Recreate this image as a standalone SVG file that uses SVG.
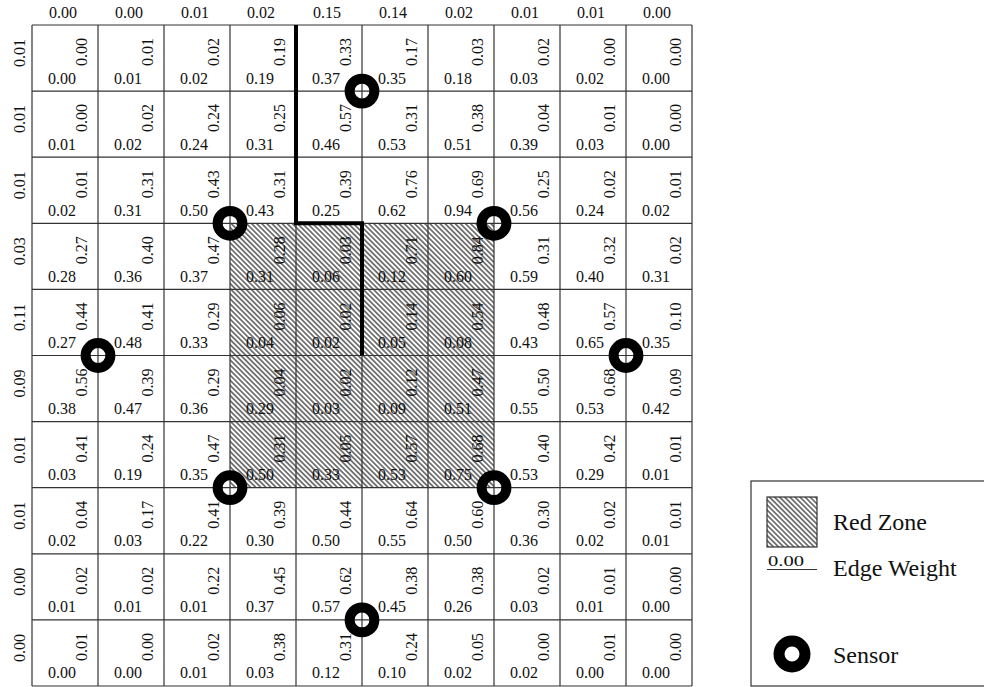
<svg xmlns="http://www.w3.org/2000/svg" width="984" height="687" viewBox="0 0 984 687">
<style>
text{font-family:"Liberation Serif","Times New Roman",serif;fill:#111;font-size:16px}
.b{text-anchor:start}
.r{text-anchor:end}
.m{text-anchor:middle}
.grid line{stroke:#333;stroke-width:1.2}
.sensor{fill:none;stroke:#000;stroke-width:10}
.leg{font-size:24px}
</style>
<defs>
<pattern id="hatch" patternUnits="userSpaceOnUse" width="3.6" height="10" patternTransform="rotate(-45)">
<line x1="1.8" y1="-1" x2="1.8" y2="11" stroke="#000" stroke-width="1"/>
</pattern>
</defs>
<rect width="984" height="687" fill="#fff"/>
<g id="red-zone"><rect x="230" y="223.3" width="264" height="264.4" fill="url(#hatch)"/></g>
<g id="grid" class="grid">
<line x1="32" y1="25" x2="692" y2="25"/><line x1="32" y1="91.1" x2="692" y2="91.1"/><line x1="32" y1="157.2" x2="692" y2="157.2"/><line x1="32" y1="223.3" x2="692" y2="223.3"/><line x1="32" y1="289.4" x2="692" y2="289.4"/><line x1="32" y1="355.5" x2="692" y2="355.5"/><line x1="32" y1="421.6" x2="692" y2="421.6"/><line x1="32" y1="487.7" x2="692" y2="487.7"/><line x1="32" y1="553.8" x2="692" y2="553.8"/><line x1="32" y1="619.9" x2="692" y2="619.9"/><line x1="32" y1="686" x2="692" y2="686"/>
<line x1="32" y1="25" x2="32" y2="686"/><line x1="98" y1="25" x2="98" y2="686"/><line x1="164" y1="25" x2="164" y2="686"/><line x1="230" y1="25" x2="230" y2="686"/><line x1="296" y1="25" x2="296" y2="686"/><line x1="362" y1="25" x2="362" y2="686"/><line x1="428" y1="25" x2="428" y2="686"/><line x1="494" y1="25" x2="494" y2="686"/><line x1="560" y1="25" x2="560" y2="686"/><line x1="626" y1="25" x2="626" y2="686"/><line x1="692" y1="25" x2="692" y2="686"/>
</g>
<g id="connectors"><path d="M296,25 V223.3 H362 V355.5" fill="none" stroke="#000" stroke-width="4"/></g>
<g id="top-labels">
<text class="m" x="63" y="18">0.00</text><text class="m" x="129" y="18">0.00</text><text class="m" x="195" y="18">0.01</text><text class="m" x="261" y="18">0.02</text><text class="m" x="327" y="18">0.15</text><text class="m" x="393" y="18">0.14</text><text class="m" x="459" y="18">0.02</text><text class="m" x="525" y="18">0.01</text><text class="m" x="591" y="18">0.01</text><text class="m" x="657" y="18">0.00</text>
</g>
<g id="left-labels">
<text class="m" transform="translate(25,53) rotate(-90)">0.01</text><text class="m" transform="translate(25,119.1) rotate(-90)">0.01</text><text class="m" transform="translate(25,185.2) rotate(-90)">0.01</text><text class="m" transform="translate(25,251.3) rotate(-90)">0.03</text><text class="m" transform="translate(25,317.4) rotate(-90)">0.11</text><text class="m" transform="translate(25,383.5) rotate(-90)">0.09</text><text class="m" transform="translate(25,449.6) rotate(-90)">0.01</text><text class="m" transform="translate(25,515.7) rotate(-90)">0.01</text><text class="m" transform="translate(25,581.8) rotate(-90)">0.00</text><text class="m" transform="translate(25,647.9) rotate(-90)">0.00</text>
</g>
<g id="cells">
<g id="row1" transform="translate(32,25)">
<g transform="translate(0,0)"><text class="b" x="16" y="58.5">0.00</text><text class="r" transform="translate(55,13) rotate(-90)">0.00</text></g>
<g transform="translate(66,0)"><text class="b" x="16" y="58.5">0.01</text><text class="r" transform="translate(55,13) rotate(-90)">0.01</text></g>
<g transform="translate(132,0)"><text class="b" x="16" y="58.5">0.02</text><text class="r" transform="translate(55,13) rotate(-90)">0.02</text></g>
<g transform="translate(198,0)"><text class="b" x="16" y="58.5">0.19</text><text class="r" transform="translate(55,13) rotate(-90)">0.19</text></g>
<g transform="translate(264,0)"><text class="b" x="16" y="58.5">0.37</text><text class="r" transform="translate(55,13) rotate(-90)">0.33</text></g>
<g transform="translate(330,0)"><text class="b" x="16" y="58.5">0.35</text><text class="r" transform="translate(55,13) rotate(-90)">0.17</text></g>
<g transform="translate(396,0)"><text class="b" x="16" y="58.5">0.18</text><text class="r" transform="translate(55,13) rotate(-90)">0.03</text></g>
<g transform="translate(462,0)"><text class="b" x="16" y="58.5">0.03</text><text class="r" transform="translate(55,13) rotate(-90)">0.02</text></g>
<g transform="translate(528,0)"><text class="b" x="16" y="58.5">0.02</text><text class="r" transform="translate(55,13) rotate(-90)">0.00</text></g>
<g transform="translate(594,0)"><text class="b" x="16" y="58.5">0.00</text><text class="r" transform="translate(55,13) rotate(-90)">0.00</text></g>
</g>
<g id="row2" transform="translate(32,91.1)">
<g transform="translate(0,0)"><text class="b" x="16" y="58.5">0.01</text><text class="r" transform="translate(55,13) rotate(-90)">0.00</text></g>
<g transform="translate(66,0)"><text class="b" x="16" y="58.5">0.02</text><text class="r" transform="translate(55,13) rotate(-90)">0.02</text></g>
<g transform="translate(132,0)"><text class="b" x="16" y="58.5">0.24</text><text class="r" transform="translate(55,13) rotate(-90)">0.24</text></g>
<g transform="translate(198,0)"><text class="b" x="16" y="58.5">0.31</text><text class="r" transform="translate(55,13) rotate(-90)">0.25</text></g>
<g transform="translate(264,0)"><text class="b" x="16" y="58.5">0.46</text><text class="r" transform="translate(55,13) rotate(-90)">0.57</text></g>
<g transform="translate(330,0)"><text class="b" x="16" y="58.5">0.53</text><text class="r" transform="translate(55,13) rotate(-90)">0.31</text></g>
<g transform="translate(396,0)"><text class="b" x="16" y="58.5">0.51</text><text class="r" transform="translate(55,13) rotate(-90)">0.38</text></g>
<g transform="translate(462,0)"><text class="b" x="16" y="58.5">0.39</text><text class="r" transform="translate(55,13) rotate(-90)">0.04</text></g>
<g transform="translate(528,0)"><text class="b" x="16" y="58.5">0.03</text><text class="r" transform="translate(55,13) rotate(-90)">0.01</text></g>
<g transform="translate(594,0)"><text class="b" x="16" y="58.5">0.00</text><text class="r" transform="translate(55,13) rotate(-90)">0.00</text></g>
</g>
<g id="row3" transform="translate(32,157.2)">
<g transform="translate(0,0)"><text class="b" x="16" y="58.5">0.02</text><text class="r" transform="translate(55,13) rotate(-90)">0.01</text></g>
<g transform="translate(66,0)"><text class="b" x="16" y="58.5">0.31</text><text class="r" transform="translate(55,13) rotate(-90)">0.31</text></g>
<g transform="translate(132,0)"><text class="b" x="16" y="58.5">0.50</text><text class="r" transform="translate(55,13) rotate(-90)">0.43</text></g>
<g transform="translate(198,0)"><text class="b" x="16" y="58.5">0.43</text><text class="r" transform="translate(55,13) rotate(-90)">0.31</text></g>
<g transform="translate(264,0)"><text class="b" x="16" y="58.5">0.25</text><text class="r" transform="translate(55,13) rotate(-90)">0.39</text></g>
<g transform="translate(330,0)"><text class="b" x="16" y="58.5">0.62</text><text class="r" transform="translate(55,13) rotate(-90)">0.76</text></g>
<g transform="translate(396,0)"><text class="b" x="16" y="58.5">0.94</text><text class="r" transform="translate(55,13) rotate(-90)">0.69</text></g>
<g transform="translate(462,0)"><text class="b" x="16" y="58.5">0.56</text><text class="r" transform="translate(55,13) rotate(-90)">0.25</text></g>
<g transform="translate(528,0)"><text class="b" x="16" y="58.5">0.24</text><text class="r" transform="translate(55,13) rotate(-90)">0.02</text></g>
<g transform="translate(594,0)"><text class="b" x="16" y="58.5">0.02</text><text class="r" transform="translate(55,13) rotate(-90)">0.01</text></g>
</g>
<g id="row4" transform="translate(32,223.3)">
<g transform="translate(0,0)"><text class="b" x="16" y="58.5">0.28</text><text class="r" transform="translate(55,13) rotate(-90)">0.27</text></g>
<g transform="translate(66,0)"><text class="b" x="16" y="58.5">0.36</text><text class="r" transform="translate(55,13) rotate(-90)">0.40</text></g>
<g transform="translate(132,0)"><text class="b" x="16" y="58.5">0.37</text><text class="r" transform="translate(55,13) rotate(-90)">0.47</text></g>
<g transform="translate(198,0)"><text class="b" x="16" y="58.5">0.31</text><text class="r" transform="translate(55,13) rotate(-90)">0.28</text></g>
<g transform="translate(264,0)"><text class="b" x="16" y="58.5">0.06</text><text class="r" transform="translate(55,13) rotate(-90)">0.03</text></g>
<g transform="translate(330,0)"><text class="b" x="16" y="58.5">0.12</text><text class="r" transform="translate(55,13) rotate(-90)">0.71</text></g>
<g transform="translate(396,0)"><text class="b" x="16" y="58.5">0.60</text><text class="r" transform="translate(55,13) rotate(-90)">0.84</text></g>
<g transform="translate(462,0)"><text class="b" x="16" y="58.5">0.59</text><text class="r" transform="translate(55,13) rotate(-90)">0.31</text></g>
<g transform="translate(528,0)"><text class="b" x="16" y="58.5">0.40</text><text class="r" transform="translate(55,13) rotate(-90)">0.32</text></g>
<g transform="translate(594,0)"><text class="b" x="16" y="58.5">0.31</text><text class="r" transform="translate(55,13) rotate(-90)">0.02</text></g>
</g>
<g id="row5" transform="translate(32,289.4)">
<g transform="translate(0,0)"><text class="b" x="16" y="58.5">0.27</text><text class="r" transform="translate(55,13) rotate(-90)">0.44</text></g>
<g transform="translate(66,0)"><text class="b" x="16" y="58.5">0.48</text><text class="r" transform="translate(55,13) rotate(-90)">0.41</text></g>
<g transform="translate(132,0)"><text class="b" x="16" y="58.5">0.33</text><text class="r" transform="translate(55,13) rotate(-90)">0.29</text></g>
<g transform="translate(198,0)"><text class="b" x="16" y="58.5">0.04</text><text class="r" transform="translate(55,13) rotate(-90)">0.06</text></g>
<g transform="translate(264,0)"><text class="b" x="16" y="58.5">0.02</text><text class="r" transform="translate(55,13) rotate(-90)">0.02</text></g>
<g transform="translate(330,0)"><text class="b" x="16" y="58.5">0.05</text><text class="r" transform="translate(55,13) rotate(-90)">0.14</text></g>
<g transform="translate(396,0)"><text class="b" x="16" y="58.5">0.08</text><text class="r" transform="translate(55,13) rotate(-90)">0.54</text></g>
<g transform="translate(462,0)"><text class="b" x="16" y="58.5">0.43</text><text class="r" transform="translate(55,13) rotate(-90)">0.48</text></g>
<g transform="translate(528,0)"><text class="b" x="16" y="58.5">0.65</text><text class="r" transform="translate(55,13) rotate(-90)">0.57</text></g>
<g transform="translate(594,0)"><text class="b" x="16" y="58.5">0.35</text><text class="r" transform="translate(55,13) rotate(-90)">0.10</text></g>
</g>
<g id="row6" transform="translate(32,355.5)">
<g transform="translate(0,0)"><text class="b" x="16" y="58.5">0.38</text><text class="r" transform="translate(55,13) rotate(-90)">0.56</text></g>
<g transform="translate(66,0)"><text class="b" x="16" y="58.5">0.47</text><text class="r" transform="translate(55,13) rotate(-90)">0.39</text></g>
<g transform="translate(132,0)"><text class="b" x="16" y="58.5">0.36</text><text class="r" transform="translate(55,13) rotate(-90)">0.29</text></g>
<g transform="translate(198,0)"><text class="b" x="16" y="58.5">0.29</text><text class="r" transform="translate(55,13) rotate(-90)">0.04</text></g>
<g transform="translate(264,0)"><text class="b" x="16" y="58.5">0.03</text><text class="r" transform="translate(55,13) rotate(-90)">0.02</text></g>
<g transform="translate(330,0)"><text class="b" x="16" y="58.5">0.09</text><text class="r" transform="translate(55,13) rotate(-90)">0.12</text></g>
<g transform="translate(396,0)"><text class="b" x="16" y="58.5">0.51</text><text class="r" transform="translate(55,13) rotate(-90)">0.47</text></g>
<g transform="translate(462,0)"><text class="b" x="16" y="58.5">0.55</text><text class="r" transform="translate(55,13) rotate(-90)">0.50</text></g>
<g transform="translate(528,0)"><text class="b" x="16" y="58.5">0.53</text><text class="r" transform="translate(55,13) rotate(-90)">0.68</text></g>
<g transform="translate(594,0)"><text class="b" x="16" y="58.5">0.42</text><text class="r" transform="translate(55,13) rotate(-90)">0.09</text></g>
</g>
<g id="row7" transform="translate(32,421.6)">
<g transform="translate(0,0)"><text class="b" x="16" y="58.5">0.03</text><text class="r" transform="translate(55,13) rotate(-90)">0.41</text></g>
<g transform="translate(66,0)"><text class="b" x="16" y="58.5">0.19</text><text class="r" transform="translate(55,13) rotate(-90)">0.24</text></g>
<g transform="translate(132,0)"><text class="b" x="16" y="58.5">0.35</text><text class="r" transform="translate(55,13) rotate(-90)">0.47</text></g>
<g transform="translate(198,0)"><text class="b" x="16" y="58.5">0.50</text><text class="r" transform="translate(55,13) rotate(-90)">0.31</text></g>
<g transform="translate(264,0)"><text class="b" x="16" y="58.5">0.33</text><text class="r" transform="translate(55,13) rotate(-90)">0.05</text></g>
<g transform="translate(330,0)"><text class="b" x="16" y="58.5">0.53</text><text class="r" transform="translate(55,13) rotate(-90)">0.57</text></g>
<g transform="translate(396,0)"><text class="b" x="16" y="58.5">0.75</text><text class="r" transform="translate(55,13) rotate(-90)">0.68</text></g>
<g transform="translate(462,0)"><text class="b" x="16" y="58.5">0.53</text><text class="r" transform="translate(55,13) rotate(-90)">0.40</text></g>
<g transform="translate(528,0)"><text class="b" x="16" y="58.5">0.29</text><text class="r" transform="translate(55,13) rotate(-90)">0.42</text></g>
<g transform="translate(594,0)"><text class="b" x="16" y="58.5">0.01</text><text class="r" transform="translate(55,13) rotate(-90)">0.01</text></g>
</g>
<g id="row8" transform="translate(32,487.7)">
<g transform="translate(0,0)"><text class="b" x="16" y="58.5">0.02</text><text class="r" transform="translate(55,13) rotate(-90)">0.04</text></g>
<g transform="translate(66,0)"><text class="b" x="16" y="58.5">0.03</text><text class="r" transform="translate(55,13) rotate(-90)">0.17</text></g>
<g transform="translate(132,0)"><text class="b" x="16" y="58.5">0.22</text><text class="r" transform="translate(55,13) rotate(-90)">0.41</text></g>
<g transform="translate(198,0)"><text class="b" x="16" y="58.5">0.30</text><text class="r" transform="translate(55,13) rotate(-90)">0.39</text></g>
<g transform="translate(264,0)"><text class="b" x="16" y="58.5">0.50</text><text class="r" transform="translate(55,13) rotate(-90)">0.44</text></g>
<g transform="translate(330,0)"><text class="b" x="16" y="58.5">0.55</text><text class="r" transform="translate(55,13) rotate(-90)">0.64</text></g>
<g transform="translate(396,0)"><text class="b" x="16" y="58.5">0.50</text><text class="r" transform="translate(55,13) rotate(-90)">0.60</text></g>
<g transform="translate(462,0)"><text class="b" x="16" y="58.5">0.36</text><text class="r" transform="translate(55,13) rotate(-90)">0.30</text></g>
<g transform="translate(528,0)"><text class="b" x="16" y="58.5">0.02</text><text class="r" transform="translate(55,13) rotate(-90)">0.02</text></g>
<g transform="translate(594,0)"><text class="b" x="16" y="58.5">0.01</text><text class="r" transform="translate(55,13) rotate(-90)">0.01</text></g>
</g>
<g id="row9" transform="translate(32,553.8)">
<g transform="translate(0,0)"><text class="b" x="16" y="58.5">0.01</text><text class="r" transform="translate(55,13) rotate(-90)">0.02</text></g>
<g transform="translate(66,0)"><text class="b" x="16" y="58.5">0.01</text><text class="r" transform="translate(55,13) rotate(-90)">0.02</text></g>
<g transform="translate(132,0)"><text class="b" x="16" y="58.5">0.01</text><text class="r" transform="translate(55,13) rotate(-90)">0.22</text></g>
<g transform="translate(198,0)"><text class="b" x="16" y="58.5">0.37</text><text class="r" transform="translate(55,13) rotate(-90)">0.45</text></g>
<g transform="translate(264,0)"><text class="b" x="16" y="58.5">0.57</text><text class="r" transform="translate(55,13) rotate(-90)">0.62</text></g>
<g transform="translate(330,0)"><text class="b" x="16" y="58.5">0.45</text><text class="r" transform="translate(55,13) rotate(-90)">0.38</text></g>
<g transform="translate(396,0)"><text class="b" x="16" y="58.5">0.26</text><text class="r" transform="translate(55,13) rotate(-90)">0.38</text></g>
<g transform="translate(462,0)"><text class="b" x="16" y="58.5">0.03</text><text class="r" transform="translate(55,13) rotate(-90)">0.02</text></g>
<g transform="translate(528,0)"><text class="b" x="16" y="58.5">0.01</text><text class="r" transform="translate(55,13) rotate(-90)">0.01</text></g>
<g transform="translate(594,0)"><text class="b" x="16" y="58.5">0.00</text><text class="r" transform="translate(55,13) rotate(-90)">0.00</text></g>
</g>
<g id="row10" transform="translate(32,619.9)">
<g transform="translate(0,0)"><text class="b" x="16" y="58.5">0.00</text><text class="r" transform="translate(55,13) rotate(-90)">0.01</text></g>
<g transform="translate(66,0)"><text class="b" x="16" y="58.5">0.00</text><text class="r" transform="translate(55,13) rotate(-90)">0.00</text></g>
<g transform="translate(132,0)"><text class="b" x="16" y="58.5">0.01</text><text class="r" transform="translate(55,13) rotate(-90)">0.02</text></g>
<g transform="translate(198,0)"><text class="b" x="16" y="58.5">0.03</text><text class="r" transform="translate(55,13) rotate(-90)">0.38</text></g>
<g transform="translate(264,0)"><text class="b" x="16" y="58.5">0.12</text><text class="r" transform="translate(55,13) rotate(-90)">0.31</text></g>
<g transform="translate(330,0)"><text class="b" x="16" y="58.5">0.10</text><text class="r" transform="translate(55,13) rotate(-90)">0.24</text></g>
<g transform="translate(396,0)"><text class="b" x="16" y="58.5">0.02</text><text class="r" transform="translate(55,13) rotate(-90)">0.05</text></g>
<g transform="translate(462,0)"><text class="b" x="16" y="58.5">0.02</text><text class="r" transform="translate(55,13) rotate(-90)">0.00</text></g>
<g transform="translate(528,0)"><text class="b" x="16" y="58.5">0.00</text><text class="r" transform="translate(55,13) rotate(-90)">0.01</text></g>
<g transform="translate(594,0)"><text class="b" x="16" y="58.5">0.00</text><text class="r" transform="translate(55,13) rotate(-90)">0.00</text></g>
</g>
</g>
<g id="sensors">
<g id="sensor1"><circle class="sensor" cx="362" cy="91.1" r="12.4"/></g>
<g id="sensor2"><circle class="sensor" cx="230" cy="223.3" r="12.4"/></g>
<g id="sensor3"><circle class="sensor" cx="494" cy="223.3" r="12.4"/></g>
<g id="sensor4"><circle class="sensor" cx="98" cy="355.5" r="12.4"/></g>
<g id="sensor5"><circle class="sensor" cx="626" cy="355.5" r="12.4"/></g>
<g id="sensor6"><circle class="sensor" cx="230" cy="487.7" r="12.4"/></g>
<g id="sensor7"><circle class="sensor" cx="494" cy="487.7" r="12.4"/></g>
<g id="sensor8"><circle class="sensor" cx="362" cy="619.9" r="12.4"/></g>
</g>
<g id="legend">
<rect x="751" y="481" width="260" height="205" fill="#fff" stroke="#333" stroke-width="1.2"/>
<rect x="767" y="497" width="50" height="50" fill="url(#hatch)" stroke="#333" stroke-width="1.2"/>
<text class="leg" x="833" y="530">Red Zone</text>
<text x="768" y="566" style="font-size:14px" textLength="36" lengthAdjust="spacingAndGlyphs">0.00</text>
<line x1="767" y1="569.5" x2="817" y2="569.5" stroke="#333" stroke-width="1.2"/>
<text class="leg" x="833" y="576">Edge Weight</text>
<circle cx="792" cy="654" r="13" fill="none" stroke="#000" stroke-width="11"/>
<text class="leg" x="833" y="662.5">Sensor</text>
</g>
</svg>
